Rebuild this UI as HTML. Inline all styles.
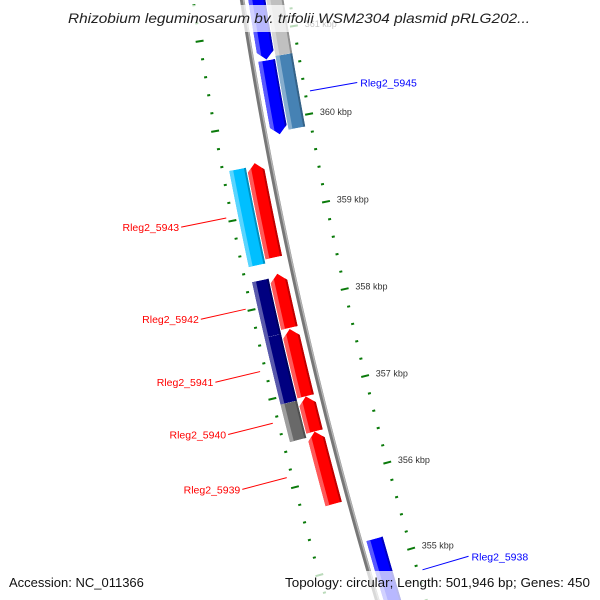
<!DOCTYPE html>
<html><head><meta charset="utf-8"><style>
html,body{margin:0;padding:0;background:#fff;width:600px;height:600px;overflow:hidden}
svg{display:block}
text{font-family:"Liberation Sans",sans-serif}
</style></head><body>
<svg id="map" width="600" height="600" viewBox="0 0 600 600" xmlns="http://www.w3.org/2000/svg">
<defs id="defs"></defs>
<g id="ticks"></g>
<g id="backbone"></g>
<g id="genes"></g>
<g id="labels"></g>
<rect x="62" y="5" width="476" height="27" fill="rgba(255,255,255,0.72)"/>
<text x="68" y="23" textLength="462" lengthAdjust="spacingAndGlyphs" font-size="14" font-style="italic" fill="#222">Rhizobium leguminosarum bv. trifolii WSM2304 plasmid pRLG202...</text>
<rect x="0" y="571" width="600" height="29" fill="rgba(255,255,255,0.72)"/>
<text x="9" y="587" font-size="13" fill="#111">Accession: NC_011366</text>
<text x="285" y="587" textLength="305" lengthAdjust="spacingAndGlyphs" font-size="13" fill="#111">Topology: circular; Length: 501,946 bp; Genes: 450</text>
</svg>
<script>
// ---- data ----
const geneStart = [361600, 360670, 361600, 360703, 355218, 359576, 359543, 358330, 357704, 356939, 356538, 358296, 357670, 356916];
const geneEnd   = [360680, 359836, 360703, 359870, 354256, 358511, 358466, 357715, 356939, 356538, 355711, 357670, 356916, 356492];
const geneTrack = ['R1','R1','R2','R2','R1','L1','L2','L1','L1','L1','L1','L2','L2','L2'];
const geneColor = ['#0000ff','#0000ff','#c0c0c0','#4682b4','#0000ff','#ff0000','#00bfff','#ff0000','#ff0000','#ff0000','#ff0000','#000080','#000080','#696969'];
const geneDir   = ['down','down','none','none','down','up','none','up','up','up','up','none','none','none'];
const labelNames = ['Rleg2_5945','Rleg2_5943','Rleg2_5942','Rleg2_5941','Rleg2_5940','Rleg2_5939','Rleg2_5938'];
const labelGene  = [1, 5, 7, 8, 9, 10, 4];
const tickMin = 353800, tickMax = 362000, tickStep = 200, majorStep = 1000;
const tickLabelSuffix = ' kbp';

// ---- geometry ----
const CX = 4718, CY = -692, R = 4529;
const NS = 'http://www.w3.org/2000/svg';
function ang(bp){ return (10.36 + (360000 - bp) * 0.001142) * Math.PI / 180; }
function pt(r, bp){ const a = ang(bp); return [CX - r * Math.cos(a), CY + r * Math.sin(a)]; }
function arc(r, b1, b2, n){ const out=[]; n=n||10; for(let i=0;i<=n;i++){ out.push(pt(r, b1 + (b2-b1)*i/n)); } return out; }
const trackR = { L1:[R+7,R+24], L2:[R+25,R+42], R1:[R-23,R-6], R2:[R-41,R-24] };
function el(tag, attrs, parent){ const e=document.createElementNS(NS,tag); for(const k in attrs) e.setAttribute(k, attrs[k]); parent.appendChild(e); return e; }
function ptsStr(p){ return p.map(q=>q[0].toFixed(2)+','+q[1].toFixed(2)).join(' '); }

// backbone
const bb = document.getElementById('backbone');
const bbPath = 'M' + arc(R, 362500, 353500, 40).map(q=>q[0].toFixed(2)+','+q[1].toFixed(2)).join(' L');
const b1 = el('path', {d:bbPath, fill:'none', stroke:'#777', 'stroke-width':4.5}, bb);


const bbPath2 = 'M' + arc(R-1.3, 362500, 353500, 40).map(q=>q[0].toFixed(2)+','+q[1].toFixed(2)).join(' L');
const b2 = el('path', {d:bbPath2, fill:'none', stroke:'#b5b5b5', 'stroke-width':1.4}, bb);



// ticks
const tg = document.getElementById('ticks');
const ringR = [R-47, R+48.5];
for (let bp = tickMin; bp <= tickMax; bp += tickStep) {
  const major = bp % majorStep === 0;
  const half = major ? 4 : 1.5;
  ringR.forEach((rr) => {
    const p1 = pt(rr-half, bp), p2 = pt(rr+half, bp);
    const t = el('line', {x1:p1[0], y1:p1[1], x2:p2[0], y2:p2[1], stroke:'#0a7a0a', 'stroke-width':2}, tg);
    
    
  });
  if (major) {
    const lp = pt(R-58, bp);
    const tx = el('text', {x:lp[0], y:lp[1]+3, 'font-size':9, fill:'#333'}, tg);
    tx.textContent = (bp/1000) + tickLabelSuffix;
    
    
  }
}

// genes
const gg = document.getElementById('genes');
const defs = document.getElementById('defs');
function shade(hex, f){
  const n=parseInt(hex.slice(1),16); let c=[(n>>16)&255,(n>>8)&255,n&255];
  c=c.map(v=> f>0 ? Math.round(v+(255-v)*f) : Math.round(v*(1+f)));
  return 'rgb('+c.join(',')+')';
}
for (let i = 0; i < geneStart.length; i++) {
  const [ri, ro] = trackR[geneTrack[i]];
  const s = geneStart[i], e = geneEnd[i], rm = (ri+ro)/2;
  const hb = Math.min(90, (s-e)/2);
  let poly;
  if (geneDir[i] === 'down') {
    poly = arc(ro, s, e+hb).concat([pt(rm, e)], arc(ri, e+hb, s));
  } else if (geneDir[i] === 'up') {
    poly = [pt(rm, s)].concat(arc(ro, s-hb, e), arc(ri, e, s-hb));
  } else {
    poly = arc(ro, s, e).concat(arc(ri, e, s));
  }
  const cp = el('clipPath', {id:'gc'+i}, defs);
  el('polygon', {points:ptsStr(poly)}, cp);
  const g = el('g', {'clip-path':'url(#gc'+i+')'}, gg);
  
  
  el('polygon', {points:ptsStr(poly), fill:geneColor[i]}, g);
  const hs = arc(ro, s+200, e-200).concat(arc(ro-4, e-200, s+200));
  el('polygon', {points:ptsStr(hs), fill:shade(geneColor[i], 0.35)}, g);
  const ds = arc(ri+2, s+200, e-200).concat(arc(ri, e-200, s+200));
  el('polygon', {points:ptsStr(ds), fill:shade(geneColor[i], -0.25)}, g);
}

// labels
const lg = document.getElementById('labels');
for (let k = 0; k < labelNames.length; k++) {
  const gi = labelGene[k];
  const mid = (geneStart[gi] + geneEnd[gi]) / 2;
  const left = geneTrack[gi][0] === 'L';
  const col = left ? '#ff0000' : '#0000ff';
  const pa = pt(left ? R+54 : R-52, mid), pb = pt(left ? R+100 : R-100, mid);
  const ln = el('line', {x1:pa[0], y1:pa[1], x2:pb[0], y2:pb[1], stroke:col, 'stroke-width':1}, lg);
  
  
  const tx = el('text', {x: left ? pb[0]-2 : pb[0]+3, y: pb[1]+4, 'font-size':10.5, fill:col, 'text-anchor': left ? 'end' : 'start'}, lg);
  tx.textContent = labelNames[k];
  
  
}
</script>
</body></html>
